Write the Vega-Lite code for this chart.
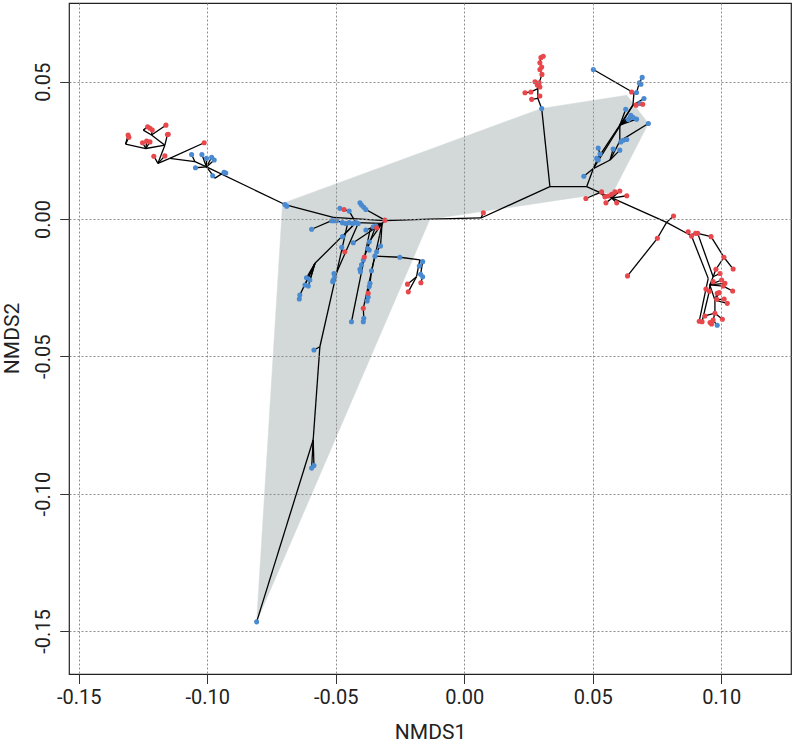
{
"$schema": "https://vega.github.io/schema/vega-lite/v6.json",
"width": 722, "height": 671,
"autosize": {"type": "none"},
"padding": {"left": 69, "top": 3, "right": 2, "bottom": 70},
"background": "white",
"config": {
 "view": {"stroke": "#222", "strokeWidth": 1.2},
 "axis": {"labelFont": "Roboto", "titleFont": "Roboto", "labelColor": "#222", "titleColor": "#222", "titleFontWeight": "normal", "tickColor": "#333", "tickWidth": 1, "domain": false, "grid": true, "gridColor": "#8C8C8C", "gridDash": [2, 2], "gridWidth": 1, "labelFlush": false, "labelOverlap": false, "labelBound": false}
},
"datasets": {
 "hull": [
  {"o": 1, "x": -0.0808, "y": -0.1467},
  {"o": 2, "x": -0.0707, "y": 0.0057},
  {"o": 3, "x": 0.0301, "y": 0.0403},
  {"o": 4, "x": 0.0632, "y": 0.0451},
  {"o": 5, "x": 0.0716, "y": 0.0348},
  {"o": 6, "x": 0.0579, "y": 0.0099},
  {"o": 7, "x": -0.0134, "y": -0.0001}
 ],
 "segs": [
  {"x1": -0.1308, "y1": 0.0306, "x2": -0.1318, "y2": 0.0273},
  {"x1": -0.1305, "y1": 0.0298, "x2": -0.1318, "y2": 0.0273},
  {"x1": -0.1318, "y1": 0.0273, "x2": -0.1239, "y2": 0.0257},
  {"x1": -0.1239, "y1": 0.0257, "x2": -0.1252, "y2": 0.0278},
  {"x1": -0.1239, "y1": 0.0257, "x2": -0.1236, "y2": 0.0284},
  {"x1": -0.1239, "y1": 0.0257, "x2": -0.1223, "y2": 0.0281},
  {"x1": -0.1239, "y1": 0.0257, "x2": -0.1165, "y2": 0.0269},
  {"x1": -0.1165, "y1": 0.0269, "x2": -0.1155, "y2": 0.0308},
  {"x1": -0.1165, "y1": 0.0269, "x2": -0.1217, "y2": 0.0306},
  {"x1": -0.1217, "y1": 0.0306, "x2": -0.1249, "y2": 0.0324},
  {"x1": -0.1249, "y1": 0.0324, "x2": -0.1232, "y2": 0.0336},
  {"x1": -0.1217, "y1": 0.0306, "x2": -0.1214, "y2": 0.0324},
  {"x1": -0.1217, "y1": 0.0306, "x2": -0.1161, "y2": 0.0342},
  {"x1": -0.1165, "y1": 0.0269, "x2": -0.1192, "y2": 0.0203},
  {"x1": -0.1192, "y1": 0.0203, "x2": -0.1208, "y2": 0.0229},
  {"x1": -0.1192, "y1": 0.0203, "x2": -0.1165, "y2": 0.0230},
  {"x1": -0.1192, "y1": 0.0203, "x2": -0.1146, "y2": 0.0221},
  {"x1": -0.1146, "y1": 0.0221, "x2": -0.1012, "y2": 0.0278},
  {"x1": -0.1146, "y1": 0.0221, "x2": -0.1048, "y2": 0.0209},
  {"x1": -0.1048, "y1": 0.0209, "x2": -0.1061, "y2": 0.0235},
  {"x1": -0.1048, "y1": 0.0209, "x2": -0.1003, "y2": 0.0190},
  {"x1": -0.1003, "y1": 0.0190, "x2": -0.1021, "y2": 0.0235},
  {"x1": -0.1003, "y1": 0.0190, "x2": -0.1003, "y2": 0.0221},
  {"x1": -0.1003, "y1": 0.0190, "x2": -0.0983, "y2": 0.0225},
  {"x1": -0.1003, "y1": 0.0190, "x2": -0.0973, "y2": 0.0215},
  {"x1": -0.1003, "y1": 0.0190, "x2": -0.1046, "y2": 0.0187},
  {"x1": -0.1003, "y1": 0.0190, "x2": -0.0970, "y2": 0.0149},
  {"x1": -0.0970, "y1": 0.0149, "x2": -0.0979, "y2": 0.0158},
  {"x1": -0.0970, "y1": 0.0149, "x2": -0.0935, "y2": 0.0170},
  {"x1": -0.0935, "y1": 0.0170, "x2": -0.0928, "y2": 0.0168},
  {"x1": -0.1003, "y1": 0.0190, "x2": -0.0698, "y2": 0.0053},
  {"x1": -0.0698, "y1": 0.0053, "x2": -0.0691, "y2": 0.0047},
  {"x1": -0.0698, "y1": 0.0053, "x2": -0.0510, "y2": 0.0006},
  {"x1": -0.0510, "y1": 0.0006, "x2": -0.0309, "y2": -0.0006},
  {"x1": -0.0309, "y1": -0.0006, "x2": -0.0134, "y2": 0.0000},
  {"x1": -0.0134, "y1": 0.0000, "x2": 0.0065, "y2": 0.0004},
  {"x1": 0.0065, "y1": 0.0004, "x2": 0.0074, "y2": 0.0023},
  {"x1": 0.0065, "y1": 0.0004, "x2": 0.0333, "y2": 0.0118},
  {"x1": -0.0516, "y1": -0.0006, "x2": -0.0594, "y2": -0.0037},
  {"x1": -0.0516, "y1": -0.0006, "x2": -0.0497, "y2": -0.0006},
  {"x1": -0.0497, "y1": -0.0006, "x2": -0.0474, "y2": -0.0013},
  {"x1": -0.0474, "y1": -0.0013, "x2": -0.0448, "y2": -0.0013},
  {"x1": -0.0448, "y1": -0.0013, "x2": -0.0422, "y2": -0.0013},
  {"x1": -0.0422, "y1": -0.0013, "x2": -0.0320, "y2": -0.0016},
  {"x1": -0.0406, "y1": 0.0059, "x2": -0.0383, "y2": 0.0035},
  {"x1": -0.0383, "y1": 0.0035, "x2": -0.0309, "y2": -0.0004},
  {"x1": -0.0484, "y1": 0.0039, "x2": -0.0448, "y2": 0.0029},
  {"x1": -0.0448, "y1": 0.0029, "x2": -0.0422, "y2": -0.0013},
  {"x1": -0.0320, "y1": -0.0016, "x2": -0.0309, "y2": -0.0006},
  {"x1": -0.0320, "y1": -0.0016, "x2": -0.0383, "y2": -0.0040},
  {"x1": -0.0320, "y1": -0.0016, "x2": -0.0344, "y2": -0.0025},
  {"x1": -0.0320, "y1": -0.0016, "x2": -0.0341, "y2": -0.0032},
  {"x1": -0.0422, "y1": -0.0013, "x2": -0.0474, "y2": -0.0064},
  {"x1": -0.0422, "y1": -0.0013, "x2": -0.0581, "y2": -0.0161},
  {"x1": -0.0581, "y1": -0.0161, "x2": -0.0614, "y2": -0.0214},
  {"x1": -0.0581, "y1": -0.0161, "x2": -0.0601, "y2": -0.0222},
  {"x1": -0.0581, "y1": -0.0161, "x2": -0.0620, "y2": -0.0240},
  {"x1": -0.0581, "y1": -0.0161, "x2": -0.0607, "y2": -0.0244},
  {"x1": -0.0581, "y1": -0.0161, "x2": -0.0640, "y2": -0.0277},
  {"x1": -0.0640, "y1": -0.0277, "x2": -0.0642, "y2": -0.0291},
  {"x1": -0.0320, "y1": -0.0016, "x2": -0.0432, "y2": -0.0086},
  {"x1": -0.0413, "y1": -0.0016, "x2": -0.0504, "y2": -0.0210},
  {"x1": -0.0504, "y1": -0.0210, "x2": -0.0507, "y2": -0.0198},
  {"x1": -0.0504, "y1": -0.0210, "x2": -0.0510, "y2": -0.0222},
  {"x1": -0.0510, "y1": -0.0222, "x2": -0.0512, "y2": -0.0228},
  {"x1": -0.0454, "y1": -0.0016, "x2": -0.0477, "y2": -0.0113},
  {"x1": -0.0477, "y1": -0.0113, "x2": -0.0562, "y2": -0.0465},
  {"x1": -0.0477, "y1": -0.0113, "x2": -0.0477, "y2": -0.0103},
  {"x1": -0.0477, "y1": -0.0113, "x2": -0.0465, "y2": -0.0119},
  {"x1": -0.0562, "y1": -0.0465, "x2": -0.0585, "y2": -0.0477},
  {"x1": -0.0562, "y1": -0.0465, "x2": -0.0588, "y2": -0.0804},
  {"x1": -0.0588, "y1": -0.0804, "x2": -0.0808, "y2": -0.1467},
  {"x1": -0.0588, "y1": -0.0804, "x2": -0.0594, "y2": -0.0907},
  {"x1": -0.0588, "y1": -0.0804, "x2": -0.0585, "y2": -0.0898},
  {"x1": -0.0320, "y1": -0.0016, "x2": -0.0348, "y2": -0.0034},
  {"x1": -0.0348, "y1": -0.0034, "x2": -0.0389, "y2": -0.0138},
  {"x1": -0.0389, "y1": -0.0138, "x2": -0.0393, "y2": -0.0149},
  {"x1": -0.0393, "y1": -0.0149, "x2": -0.0400, "y2": -0.0167},
  {"x1": -0.0400, "y1": -0.0167, "x2": -0.0406, "y2": -0.0183},
  {"x1": -0.0406, "y1": -0.0183, "x2": -0.0404, "y2": -0.0192},
  {"x1": -0.0320, "y1": -0.0016, "x2": -0.0370, "y2": -0.0083},
  {"x1": -0.0370, "y1": -0.0083, "x2": -0.0376, "y2": -0.0107},
  {"x1": -0.0376, "y1": -0.0107, "x2": -0.0370, "y2": -0.0113},
  {"x1": -0.0320, "y1": -0.0016, "x2": -0.0326, "y2": -0.0098},
  {"x1": -0.0326, "y1": -0.0098, "x2": -0.0341, "y2": -0.0119},
  {"x1": -0.0341, "y1": -0.0119, "x2": -0.0348, "y2": -0.0135},
  {"x1": -0.0348, "y1": -0.0135, "x2": -0.0361, "y2": -0.0188},
  {"x1": -0.0361, "y1": -0.0188, "x2": -0.0367, "y2": -0.0234},
  {"x1": -0.0367, "y1": -0.0234, "x2": -0.0370, "y2": -0.0246},
  {"x1": -0.0370, "y1": -0.0246, "x2": -0.0374, "y2": -0.0270},
  {"x1": -0.0374, "y1": -0.0270, "x2": -0.0374, "y2": -0.0284},
  {"x1": -0.0374, "y1": -0.0284, "x2": -0.0378, "y2": -0.0298},
  {"x1": -0.0320, "y1": -0.0016, "x2": -0.0330, "y2": -0.0060},
  {"x1": -0.0330, "y1": -0.0060, "x2": -0.0393, "y2": -0.0325},
  {"x1": -0.0393, "y1": -0.0325, "x2": -0.0391, "y2": -0.0361},
  {"x1": -0.0391, "y1": -0.0361, "x2": -0.0393, "y2": -0.0374},
  {"x1": -0.0320, "y1": -0.0016, "x2": -0.0367, "y2": -0.0040},
  {"x1": -0.0367, "y1": -0.0040, "x2": -0.0439, "y2": -0.0374},
  {"x1": -0.0348, "y1": -0.0135, "x2": -0.0251, "y2": -0.0139},
  {"x1": -0.0251, "y1": -0.0139, "x2": -0.0173, "y2": -0.0149},
  {"x1": -0.0173, "y1": -0.0149, "x2": -0.0162, "y2": -0.0155},
  {"x1": -0.0173, "y1": -0.0149, "x2": -0.0175, "y2": -0.0171},
  {"x1": -0.0173, "y1": -0.0149, "x2": -0.0186, "y2": -0.0210},
  {"x1": -0.0186, "y1": -0.0210, "x2": -0.0221, "y2": -0.0237},
  {"x1": -0.0186, "y1": -0.0210, "x2": -0.0218, "y2": -0.0265},
  {"x1": -0.0162, "y1": -0.0155, "x2": -0.0170, "y2": -0.0201},
  {"x1": -0.0170, "y1": -0.0201, "x2": -0.0162, "y2": -0.0210},
  {"x1": -0.0162, "y1": -0.0210, "x2": -0.0169, "y2": -0.0232},
  {"x1": 0.0333, "y1": 0.0118, "x2": 0.0301, "y2": 0.0403},
  {"x1": 0.0301, "y1": 0.0403, "x2": 0.0286, "y2": 0.0440},
  {"x1": 0.0286, "y1": 0.0440, "x2": 0.0294, "y2": 0.0448},
  {"x1": 0.0286, "y1": 0.0440, "x2": 0.0262, "y2": 0.0436},
  {"x1": 0.0286, "y1": 0.0440, "x2": 0.0286, "y2": 0.0475},
  {"x1": 0.0286, "y1": 0.0475, "x2": 0.0259, "y2": 0.0463},
  {"x1": 0.0259, "y1": 0.0463, "x2": 0.0236, "y2": 0.0460},
  {"x1": 0.0286, "y1": 0.0475, "x2": 0.0284, "y2": 0.0488},
  {"x1": 0.0284, "y1": 0.0488, "x2": 0.0275, "y2": 0.0500},
  {"x1": 0.0286, "y1": 0.0475, "x2": 0.0294, "y2": 0.0481},
  {"x1": 0.0294, "y1": 0.0481, "x2": 0.0291, "y2": 0.0496},
  {"x1": 0.0291, "y1": 0.0496, "x2": 0.0302, "y2": 0.0527},
  {"x1": 0.0302, "y1": 0.0527, "x2": 0.0294, "y2": 0.0545},
  {"x1": 0.0294, "y1": 0.0545, "x2": 0.0301, "y2": 0.0554},
  {"x1": 0.0301, "y1": 0.0554, "x2": 0.0294, "y2": 0.0569},
  {"x1": 0.0294, "y1": 0.0569, "x2": 0.0298, "y2": 0.0588},
  {"x1": 0.0298, "y1": 0.0588, "x2": 0.0307, "y2": 0.0593},
  {"x1": 0.0333, "y1": 0.0118, "x2": 0.0476, "y2": 0.0118},
  {"x1": 0.0476, "y1": 0.0118, "x2": 0.0787, "y2": -0.0012},
  {"x1": 0.0527, "y1": 0.0096, "x2": 0.0473, "y2": 0.0075},
  {"x1": 0.0527, "y1": 0.0096, "x2": 0.0534, "y2": 0.0099},
  {"x1": 0.0527, "y1": 0.0096, "x2": 0.0547, "y2": 0.0081},
  {"x1": 0.0574, "y1": 0.0076, "x2": 0.0560, "y2": 0.0084},
  {"x1": 0.0574, "y1": 0.0076, "x2": 0.0573, "y2": 0.0090},
  {"x1": 0.0574, "y1": 0.0076, "x2": 0.0586, "y2": 0.0099},
  {"x1": 0.0574, "y1": 0.0076, "x2": 0.0605, "y2": 0.0102},
  {"x1": 0.0574, "y1": 0.0076, "x2": 0.0632, "y2": 0.0085},
  {"x1": 0.0574, "y1": 0.0076, "x2": 0.0551, "y2": 0.0059},
  {"x1": 0.0574, "y1": 0.0076, "x2": 0.0593, "y2": 0.0059},
  {"x1": 0.0787, "y1": -0.0012, "x2": 0.0814, "y2": 0.0011},
  {"x1": 0.0787, "y1": -0.0012, "x2": 0.0751, "y2": -0.0070},
  {"x1": 0.0751, "y1": -0.0070, "x2": 0.0635, "y2": -0.0207},
  {"x1": 0.0787, "y1": -0.0012, "x2": 0.0878, "y2": -0.0058},
  {"x1": 0.0878, "y1": -0.0058, "x2": 0.0871, "y2": -0.0046},
  {"x1": 0.0878, "y1": -0.0058, "x2": 0.0884, "y2": -0.0062},
  {"x1": 0.0878, "y1": -0.0058, "x2": 0.0900, "y2": -0.0052},
  {"x1": 0.0900, "y1": -0.0052, "x2": 0.0908, "y2": -0.0052},
  {"x1": 0.0908, "y1": -0.0052, "x2": 0.0960, "y2": -0.0064},
  {"x1": 0.0884, "y1": -0.0062, "x2": 0.0949, "y2": -0.0216},
  {"x1": 0.0908, "y1": -0.0052, "x2": 0.0968, "y2": -0.0210},
  {"x1": 0.0960, "y1": -0.0064, "x2": 0.1010, "y2": -0.0139},
  {"x1": 0.1010, "y1": -0.0139, "x2": 0.1046, "y2": -0.0182},
  {"x1": 0.1010, "y1": -0.0139, "x2": 0.0979, "y2": -0.0183},
  {"x1": 0.0979, "y1": -0.0183, "x2": 0.0968, "y2": -0.0210},
  {"x1": 0.0968, "y1": -0.0210, "x2": 0.0995, "y2": -0.0198},
  {"x1": 0.0968, "y1": -0.0210, "x2": 0.0955, "y2": -0.0240},
  {"x1": 0.0949, "y1": -0.0216, "x2": 0.0940, "y2": -0.0255},
  {"x1": 0.0955, "y1": -0.0240, "x2": 0.0968, "y2": -0.0228},
  {"x1": 0.0955, "y1": -0.0240, "x2": 0.1001, "y2": -0.0222},
  {"x1": 0.0955, "y1": -0.0240, "x2": 0.1014, "y2": -0.0234},
  {"x1": 0.0955, "y1": -0.0240, "x2": 0.1007, "y2": -0.0244},
  {"x1": 0.1007, "y1": -0.0244, "x2": 0.1044, "y2": -0.0262},
  {"x1": 0.0955, "y1": -0.0240, "x2": 0.0953, "y2": -0.0263},
  {"x1": 0.0955, "y1": -0.0240, "x2": 0.0975, "y2": -0.0295},
  {"x1": 0.0975, "y1": -0.0295, "x2": 0.0984, "y2": -0.0270},
  {"x1": 0.0975, "y1": -0.0295, "x2": 0.0992, "y2": -0.0268},
  {"x1": 0.0975, "y1": -0.0295, "x2": 0.0982, "y2": -0.0292},
  {"x1": 0.0975, "y1": -0.0295, "x2": 0.1011, "y2": -0.0291},
  {"x1": 0.0975, "y1": -0.0295, "x2": 0.1023, "y2": -0.0307},
  {"x1": 0.0940, "y1": -0.0255, "x2": 0.0914, "y2": -0.0372},
  {"x1": 0.0953, "y1": -0.0263, "x2": 0.0925, "y2": -0.0374},
  {"x1": 0.0975, "y1": -0.0295, "x2": 0.0975, "y2": -0.0343},
  {"x1": 0.0975, "y1": -0.0343, "x2": 0.1004, "y2": -0.0365},
  {"x1": 0.0975, "y1": -0.0343, "x2": 0.0968, "y2": -0.0368},
  {"x1": 0.0968, "y1": -0.0368, "x2": 0.0962, "y2": -0.0382},
  {"x1": 0.0962, "y1": -0.0382, "x2": 0.0956, "y2": -0.0377},
  {"x1": 0.0968, "y1": -0.0368, "x2": 0.0984, "y2": -0.0387},
  {"x1": 0.0936, "y1": -0.0353, "x2": 0.0975, "y2": -0.0343},
  {"x1": 0.0476, "y1": 0.0118, "x2": 0.0502, "y2": 0.0184},
  {"x1": 0.0502, "y1": 0.0184, "x2": 0.0465, "y2": 0.0156},
  {"x1": 0.0502, "y1": 0.0184, "x2": 0.0520, "y2": 0.0222},
  {"x1": 0.0520, "y1": 0.0222, "x2": 0.0515, "y2": 0.0221},
  {"x1": 0.0520, "y1": 0.0222, "x2": 0.0521, "y2": 0.0215},
  {"x1": 0.0520, "y1": 0.0222, "x2": 0.0528, "y2": 0.0237},
  {"x1": 0.0528, "y1": 0.0237, "x2": 0.0521, "y2": 0.0259},
  {"x1": 0.0502, "y1": 0.0184, "x2": 0.0567, "y2": 0.0215},
  {"x1": 0.0567, "y1": 0.0215, "x2": 0.0579, "y2": 0.0255},
  {"x1": 0.0567, "y1": 0.0215, "x2": 0.0605, "y2": 0.0251},
  {"x1": 0.0567, "y1": 0.0215, "x2": 0.0605, "y2": 0.0284},
  {"x1": 0.0605, "y1": 0.0284, "x2": 0.0632, "y2": 0.0290},
  {"x1": 0.0605, "y1": 0.0284, "x2": 0.0618, "y2": 0.0287},
  {"x1": 0.0605, "y1": 0.0284, "x2": 0.0609, "y2": 0.0281},
  {"x1": 0.0605, "y1": 0.0284, "x2": 0.0716, "y2": 0.0348},
  {"x1": 0.0605, "y1": 0.0284, "x2": 0.0605, "y2": 0.0342},
  {"x1": 0.0605, "y1": 0.0342, "x2": 0.0628, "y2": 0.0400},
  {"x1": 0.0605, "y1": 0.0342, "x2": 0.0648, "y2": 0.0378},
  {"x1": 0.0605, "y1": 0.0342, "x2": 0.0657, "y2": 0.0370},
  {"x1": 0.0605, "y1": 0.0342, "x2": 0.0670, "y2": 0.0364},
  {"x1": 0.0605, "y1": 0.0342, "x2": 0.0638, "y2": 0.0363},
  {"x1": 0.0605, "y1": 0.0342, "x2": 0.0656, "y2": 0.0415},
  {"x1": 0.0656, "y1": 0.0415, "x2": 0.0668, "y2": 0.0415},
  {"x1": 0.0656, "y1": 0.0415, "x2": 0.0694, "y2": 0.0418},
  {"x1": 0.0656, "y1": 0.0415, "x2": 0.0683, "y2": 0.0421},
  {"x1": 0.0656, "y1": 0.0415, "x2": 0.0699, "y2": 0.0439},
  {"x1": 0.0656, "y1": 0.0415, "x2": 0.0660, "y2": 0.0459},
  {"x1": 0.0660, "y1": 0.0459, "x2": 0.0651, "y2": 0.0463},
  {"x1": 0.0660, "y1": 0.0459, "x2": 0.0670, "y2": 0.0461},
  {"x1": 0.0670, "y1": 0.0461, "x2": 0.0681, "y2": 0.0496},
  {"x1": 0.0681, "y1": 0.0496, "x2": 0.0687, "y2": 0.0491},
  {"x1": 0.0681, "y1": 0.0496, "x2": 0.0692, "y2": 0.0516},
  {"x1": 0.0660, "y1": 0.0459, "x2": 0.0502, "y2": 0.0545},
  {"x1": 0.0502, "y1": 0.0184, "x2": 0.0656, "y2": 0.0415},
  {"x1": 0.0520, "y1": 0.0222, "x2": 0.0605, "y2": 0.0342}
 ],
 "pts": [
  {"x": -0.1308, "y": 0.0306, "g": "red"}, {"x": -0.1305, "y": 0.0298, "g": "red"},
  {"x": -0.1232, "y": 0.0336, "g": "red"}, {"x": -0.1223, "y": 0.0331, "g": "red"},
  {"x": -0.1214, "y": 0.0324, "g": "red"}, {"x": -0.1161, "y": 0.0342, "g": "red"},
  {"x": -0.1155, "y": 0.0308, "g": "red"}, {"x": -0.1152, "y": 0.0309, "g": "red"},
  {"x": -0.1252, "y": 0.0278, "g": "red"}, {"x": -0.1236, "y": 0.0284, "g": "red"},
  {"x": -0.1223, "y": 0.0281, "g": "red"}, {"x": -0.1012, "y": 0.0278, "g": "red"},
  {"x": -0.1208, "y": 0.0229, "g": "red"}, {"x": -0.1165, "y": 0.0230, "g": "red"},
  {"x": -0.1061, "y": 0.0235, "g": "blue"}, {"x": -0.1021, "y": 0.0235, "g": "blue"},
  {"x": -0.1003, "y": 0.0221, "g": "blue"}, {"x": -0.0983, "y": 0.0225, "g": "blue"},
  {"x": -0.0973, "y": 0.0215, "g": "blue"}, {"x": -0.1046, "y": 0.0187, "g": "blue"},
  {"x": -0.0979, "y": 0.0158, "g": "blue"}, {"x": -0.0935, "y": 0.0170, "g": "blue"},
  {"x": -0.0928, "y": 0.0168, "g": "blue"},
  {"x": -0.0698, "y": 0.0053, "g": "blue"}, {"x": -0.0691, "y": 0.0047, "g": "blue"},
  {"x": -0.0484, "y": 0.0039, "g": "blue"}, {"x": -0.0406, "y": 0.0059, "g": "blue"},
  {"x": -0.0400, "y": 0.0051, "g": "blue"}, {"x": -0.0391, "y": 0.0043, "g": "blue"},
  {"x": -0.0383, "y": 0.0035, "g": "blue"}, {"x": -0.0448, "y": 0.0029, "g": "blue"},
  {"x": -0.0516, "y": -0.0006, "g": "blue"}, {"x": -0.0507, "y": -0.0006, "g": "blue"},
  {"x": -0.0497, "y": -0.0006, "g": "blue"}, {"x": -0.0474, "y": -0.0013, "g": "blue"},
  {"x": -0.0461, "y": -0.0016, "g": "blue"}, {"x": -0.0448, "y": -0.0013, "g": "blue"},
  {"x": -0.0435, "y": -0.0016, "g": "blue"}, {"x": -0.0422, "y": -0.0013, "g": "blue"},
  {"x": -0.0413, "y": -0.0016, "g": "blue"}, {"x": -0.0594, "y": -0.0037, "g": "blue"},
  {"x": -0.0383, "y": -0.0040, "g": "blue"}, {"x": -0.0354, "y": -0.0028, "g": "blue"},
  {"x": -0.0344, "y": -0.0025, "g": "blue"}, {"x": -0.0474, "y": -0.0064, "g": "blue"},
  {"x": -0.0432, "y": -0.0086, "g": "blue"}, {"x": -0.0370, "y": -0.0083, "g": "blue"},
  {"x": -0.0477, "y": -0.0103, "g": "blue"}, {"x": -0.0376, "y": -0.0107, "g": "blue"},
  {"x": -0.0370, "y": -0.0113, "g": "blue"}, {"x": -0.0326, "y": -0.0098, "g": "blue"},
  {"x": -0.0341, "y": -0.0119, "g": "blue"}, {"x": -0.0348, "y": -0.0135, "g": "blue"},
  {"x": -0.0251, "y": -0.0139, "g": "blue"}, {"x": -0.0162, "y": -0.0155, "g": "blue"},
  {"x": -0.0175, "y": -0.0171, "g": "blue"}, {"x": -0.0170, "y": -0.0201, "g": "blue"},
  {"x": -0.0162, "y": -0.0210, "g": "blue"}, {"x": -0.0393, "y": -0.0149, "g": "blue"},
  {"x": -0.0400, "y": -0.0167, "g": "blue"}, {"x": -0.0406, "y": -0.0183, "g": "blue"},
  {"x": -0.0404, "y": -0.0192, "g": "blue"}, {"x": -0.0361, "y": -0.0188, "g": "blue"},
  {"x": -0.0614, "y": -0.0214, "g": "blue"}, {"x": -0.0601, "y": -0.0222, "g": "blue"},
  {"x": -0.0507, "y": -0.0198, "g": "blue"}, {"x": -0.0504, "y": -0.0210, "g": "blue"},
  {"x": -0.0510, "y": -0.0222, "g": "blue"}, {"x": -0.0512, "y": -0.0228, "g": "blue"},
  {"x": -0.0620, "y": -0.0240, "g": "blue"}, {"x": -0.0607, "y": -0.0244, "g": "blue"},
  {"x": -0.0640, "y": -0.0277, "g": "blue"}, {"x": -0.0642, "y": -0.0291, "g": "blue"},
  {"x": -0.0367, "y": -0.0234, "g": "blue"}, {"x": -0.0370, "y": -0.0246, "g": "blue"},
  {"x": -0.0374, "y": -0.0284, "g": "blue"}, {"x": -0.0378, "y": -0.0298, "g": "blue"},
  {"x": -0.0439, "y": -0.0374, "g": "blue"}, {"x": -0.0391, "y": -0.0361, "g": "blue"},
  {"x": -0.0393, "y": -0.0374, "g": "blue"}, {"x": -0.0585, "y": -0.0477, "g": "blue"},
  {"x": -0.0594, "y": -0.0907, "g": "blue"}, {"x": -0.0585, "y": -0.0898, "g": "blue"},
  {"x": -0.0808, "y": -0.1467, "g": "blue"},
  {"x": -0.0468, "y": 0.0035, "g": "red"}, {"x": -0.0309, "y": -0.0004, "g": "red"},
  {"x": -0.0341, "y": -0.0032, "g": "red"}, {"x": -0.0465, "y": -0.0119, "g": "red"},
  {"x": -0.0389, "y": -0.0138, "g": "red"}, {"x": -0.0374, "y": -0.0270, "g": "red"},
  {"x": -0.0393, "y": -0.0325, "g": "red"}, {"x": -0.0221, "y": -0.0237, "g": "red"},
  {"x": -0.0169, "y": -0.0232, "g": "red"}, {"x": -0.0218, "y": -0.0265, "g": "red"},
  {"x": 0.0074, "y": 0.0023, "g": "red"},
  {"x": 0.0301, "y": 0.0403, "g": "blue"}, {"x": 0.0502, "y": 0.0545, "g": "blue"},
  {"x": 0.0692, "y": 0.0516, "g": "blue"}, {"x": 0.0681, "y": 0.0496, "g": "blue"},
  {"x": 0.0687, "y": 0.0491, "g": "blue"}, {"x": 0.0670, "y": 0.0461, "g": "blue"},
  {"x": 0.0699, "y": 0.0439, "g": "blue"}, {"x": 0.0683, "y": 0.0421, "g": "blue"},
  {"x": 0.0628, "y": 0.0400, "g": "blue"}, {"x": 0.0648, "y": 0.0378, "g": "blue"},
  {"x": 0.0657, "y": 0.0370, "g": "blue"}, {"x": 0.0670, "y": 0.0364, "g": "blue"},
  {"x": 0.0638, "y": 0.0363, "g": "blue"}, {"x": 0.0716, "y": 0.0348, "g": "blue"},
  {"x": 0.0632, "y": 0.0290, "g": "blue"}, {"x": 0.0618, "y": 0.0287, "g": "blue"},
  {"x": 0.0609, "y": 0.0281, "g": "blue"}, {"x": 0.0521, "y": 0.0259, "g": "blue"},
  {"x": 0.0528, "y": 0.0237, "g": "blue"}, {"x": 0.0579, "y": 0.0255, "g": "blue"},
  {"x": 0.0605, "y": 0.0251, "g": "blue"}, {"x": 0.0515, "y": 0.0221, "g": "blue"},
  {"x": 0.0521, "y": 0.0215, "g": "blue"}, {"x": 0.0465, "y": 0.0156, "g": "blue"},
  {"x": 0.0984, "y": -0.0387, "g": "blue"},
  {"x": 0.0262, "y": 0.0436, "g": "red"}, {"x": 0.0294, "y": 0.0448, "g": "red"},
  {"x": 0.0236, "y": 0.0460, "g": "red"}, {"x": 0.0259, "y": 0.0463, "g": "red"},
  {"x": 0.0291, "y": 0.0496, "g": "red"}, {"x": 0.0275, "y": 0.0500, "g": "red"},
  {"x": 0.0284, "y": 0.0488, "g": "red"}, {"x": 0.0294, "y": 0.0481, "g": "red"},
  {"x": 0.0294, "y": 0.0569, "g": "red"}, {"x": 0.0301, "y": 0.0554, "g": "red"},
  {"x": 0.0294, "y": 0.0545, "g": "red"}, {"x": 0.0302, "y": 0.0527, "g": "red"},
  {"x": 0.0298, "y": 0.0588, "g": "red"}, {"x": 0.0307, "y": 0.0593, "g": "red"},
  {"x": 0.0651, "y": 0.0463, "g": "red"}, {"x": 0.0668, "y": 0.0415, "g": "red"},
  {"x": 0.0694, "y": 0.0418, "g": "red"},
  {"x": 0.0473, "y": 0.0075, "g": "red"}, {"x": 0.0534, "y": 0.0099, "g": "red"},
  {"x": 0.0547, "y": 0.0081, "g": "red"}, {"x": 0.0560, "y": 0.0084, "g": "red"},
  {"x": 0.0573, "y": 0.0090, "g": "red"}, {"x": 0.0586, "y": 0.0099, "g": "red"},
  {"x": 0.0605, "y": 0.0102, "g": "red"}, {"x": 0.0632, "y": 0.0085, "g": "red"},
  {"x": 0.0551, "y": 0.0059, "g": "red"}, {"x": 0.0593, "y": 0.0059, "g": "red"},
  {"x": 0.0814, "y": 0.0011, "g": "red"}, {"x": 0.0751, "y": -0.0070, "g": "red"},
  {"x": 0.0635, "y": -0.0207, "g": "red"},
  {"x": 0.0871, "y": -0.0046, "g": "red"}, {"x": 0.0884, "y": -0.0062, "g": "red"},
  {"x": 0.0900, "y": -0.0052, "g": "red"}, {"x": 0.0908, "y": -0.0052, "g": "red"},
  {"x": 0.0960, "y": -0.0064, "g": "red"},
  {"x": 0.1010, "y": -0.0139, "g": "red"}, {"x": 0.1046, "y": -0.0182, "g": "red"},
  {"x": 0.0979, "y": -0.0183, "g": "red"}, {"x": 0.0995, "y": -0.0198, "g": "red"},
  {"x": 0.0968, "y": -0.0228, "g": "red"}, {"x": 0.1001, "y": -0.0222, "g": "red"},
  {"x": 0.1014, "y": -0.0234, "g": "red"}, {"x": 0.1007, "y": -0.0244, "g": "red"},
  {"x": 0.1044, "y": -0.0262, "g": "red"}, {"x": 0.0940, "y": -0.0255, "g": "red"},
  {"x": 0.0953, "y": -0.0263, "g": "red"}, {"x": 0.0984, "y": -0.0270, "g": "red"},
  {"x": 0.0992, "y": -0.0268, "g": "red"}, {"x": 0.0982, "y": -0.0292, "g": "red"},
  {"x": 0.1011, "y": -0.0291, "g": "red"}, {"x": 0.1023, "y": -0.0307, "g": "red"},
  {"x": 0.0975, "y": -0.0343, "g": "red"}, {"x": 0.1004, "y": -0.0365, "g": "red"},
  {"x": 0.0914, "y": -0.0372, "g": "red"}, {"x": 0.0925, "y": -0.0374, "g": "red"},
  {"x": 0.0936, "y": -0.0353, "g": "red"}, {"x": 0.0956, "y": -0.0377, "g": "red"},
  {"x": 0.0962, "y": -0.0382, "g": "red"}, {"x": 0.0968, "y": -0.0368, "g": "red"}
 ]
},
"layer": [
 {
  "data": {"name": "hull"},
  "mark": {"type": "line", "interpolate": "linear-closed", "fill": "#D3D9D9", "stroke": "#D3D9D9", "strokeWidth": 0.5},
  "encoding": {
   "x": {"field": "x", "type": "quantitative", "scale": {"domain": [-0.1538, 0.1271], "nice": false, "zero": false},
    "axis": {"title": "NMDS1", "values": [-0.15, -0.1, -0.05, 0, 0.05, 0.1], "labelExpr": "datum.value < 0 ? '-' + format(-datum.value, '.2f') : format(datum.value, '.2f')", "labelFontSize": 20, "labelPadding": 4, "tickSize": 9.5, "titleFontSize": 21, "titleBaseline": "alphabetic", "titleY": 64, "titleX": 361, "zindex": 1}},
   "y": {"field": "y", "type": "quantitative", "scale": {"domain": [-0.1657, 0.0787], "nice": false, "zero": false},
    "axis": {"title": "NMDS2", "values": [-0.15, -0.1, -0.05, 0, 0.05], "labelExpr": "datum.value < 0 ? '-' + format(-datum.value, '.2f') : format(datum.value, '.2f')", "labelFontSize": 20, "labelAngle": -90, "labelAlign": "center", "labelBaseline": "alphabetic", "labelPadding": 10, "tickSize": 9.3, "titleFontSize": 21, "titleAngle": -90, "titleAlign": "center", "titleBaseline": "alphabetic", "titleX": -51, "titleY": 335, "zindex": 1}},
   "order": {"field": "o", "type": "quantitative"}
  }
 },
 {
  "data": {"name": "segs"},
  "mark": {"type": "rule", "color": "#000000", "strokeWidth": 1.3},
  "encoding": {
   "x": {"field": "x1", "type": "quantitative", "axis": {"title": "NMDS1"}},
   "y": {"field": "y1", "type": "quantitative", "axis": {"title": "NMDS2"}},
   "x2": {"field": "x2"},
   "y2": {"field": "y2"}
  }
 },
 {
  "data": {"name": "pts"},
  "mark": {"type": "circle", "size": 26, "opacity": 1},
  "encoding": {
   "x": {"field": "x", "type": "quantitative", "axis": {"title": "NMDS1"}},
   "y": {"field": "y", "type": "quantitative", "axis": {"title": "NMDS2"}},
   "color": {"field": "g", "type": "nominal", "scale": {"domain": ["red", "blue"], "range": ["#E8474B", "#4A8AD0"]}, "legend": null}
  }
 }
]
}
